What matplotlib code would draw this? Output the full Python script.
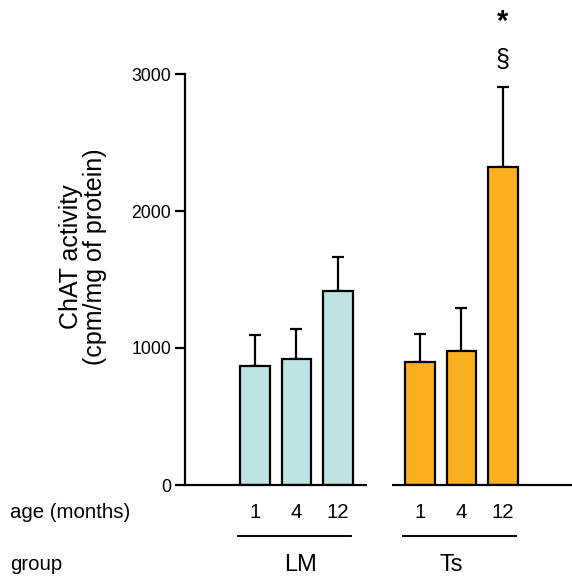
import matplotlib
matplotlib.use("Agg")
import matplotlib.pyplot as plt
import matplotlib.transforms as mtransforms
from matplotlib.lines import Line2D

plt.rcParams['font.family'] = ['Liberation Sans', 'DejaVu Sans']

groups = ["LM", "Ts"]
ages = ["1", "4", "12"]
lm_means = [870, 920, 1414]
lm_err = [225, 219, 250]
ts_means = [900, 978, 2321]
ts_err = [202, 315, 585]
ts_marks = ["", "", "§"]
ts_stars = ["", "", "*"]
colors = ["#bde3e3", "#fbb01f"]
y_ticks = [0, 1000, 2000, 3000]

fig = plt.figure(figsize=(5.72, 5.79), dpi=100)
ax = fig.add_axes([185/572, (579-485)/579, 1-185/572, (485-74)/579])

means = [lm_means, ts_means]
errs = [lm_err, ts_err]
for g in range(2):
    xs = [g*4 + i for i in range(3)]
    ax.bar(xs, means[g], width=0.72, color=colors[g], edgecolor="black",
           linewidth=1.6, zorder=2)
    ax.errorbar(xs, means[g], yerr=[[0]*3, errs[g]], fmt="none", ecolor="black",
                elinewidth=1.6, capsize=4.5, capthick=1.6, zorder=1)

# significance marks
for i in range(3):
    x = 4 + i
    if ts_marks[i]:
        ax.text(x, 3105, ts_marks[i], ha="center", va="center", fontsize=18,
                clip_on=False)
    if ts_stars[i]:
        ax.text(x, 3380, ts_stars[i], ha="center", va="center", fontsize=21,
                fontweight="bold", clip_on=False)

ax.set_xlim(-1.70, 7.68)
ax.set_ylim(0, 3000)
ax.set_yticks(y_ticks)
ax.set_yticklabels([str(v) for v in y_ticks], fontsize=12.7)
ax.tick_params(axis="y", direction="out", length=7, width=1.6, pad=3)
ax.set_xticks([])
for s in ["top", "right", "bottom"]:
    ax.spines[s].set_visible(False)
ax.spines["left"].set_linewidth(1.6)

# broken baseline
ax.plot([-1.70, 2.71], [0, 0], color="black", lw=1.6, clip_on=False, zorder=3,
        solid_capstyle="butt")
ax.plot([3.32, 7.68], [0, 0], color="black", lw=1.6, clip_on=False, zorder=3,
        solid_capstyle="butt")

ax.set_ylabel("ChAT activity\n(cpm/mg of protein)", fontsize=18,
              linespacing=1.0)
ax.yaxis.set_label_coords(-(185-83)/387, 0.555)
ax.yaxis.label.set_va("center")

trans = mtransforms.blended_transform_factory(ax.transData, fig.transFigure)
y_age = 1 - 513/579
y_line = 1 - 536/579
y_grp = 1 - 565/579
fig.text(10/572, y_age, "age (months)", fontsize=14.7, ha="left", va="center")
fig.text(10/572, y_grp, "group", fontsize=14.7, ha="left", va="center")
for g in range(2):
    for i in range(3):
        ax.text(g*4 + i, y_age, ages[i], transform=trans, ha="center",
                va="center", fontsize=14.7)
    ax.add_line(Line2D([g*4 - 0.42, g*4 + 2.32], [y_line, y_line],
                       transform=trans, color="black", lw=1.4, clip_on=False))
ax.text(1.1, y_grp, groups[0], transform=trans, ha="center", va="center",
        fontsize=17)
ax.text(4.75, y_grp, groups[1], transform=trans, ha="center", va="center",
        fontsize=17)

fig.savefig("out.png", dpi=100)
